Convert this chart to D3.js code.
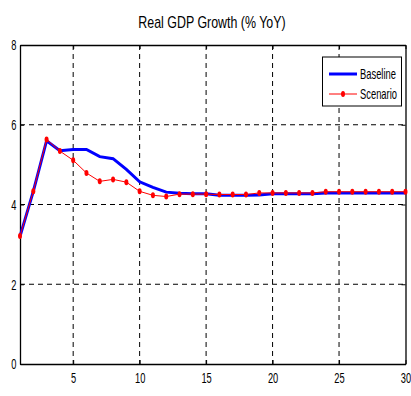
<!DOCTYPE html>
<html><head><meta charset="utf-8">
<script src="https://cdn.jsdelivr.net/npm/d3@7"></script>
<style>body{margin:0;background:#fff}svg{display:block}text{font-family:"Liberation Sans",Arial,sans-serif}</style>
</head><body><svg id="c" width="411" height="396"></svg>
<script>
const periods = d3.range(1, 31);
const baseline = [3.2,4.33,5.6,5.35,5.38,5.38,5.2,5.15,4.88,4.57,4.43,4.31,4.28,4.27,4.27,4.23,4.23,4.23,4.24,4.27,4.27,4.27,4.27,4.29,4.29,4.29,4.29,4.29,4.29,4.29];
const scenario = [3.21,4.33,5.63,5.34,5.11,4.79,4.58,4.63,4.56,4.33,4.23,4.2,4.26,4.26,4.26,4.25,4.25,4.25,4.29,4.29,4.29,4.29,4.29,4.32,4.32,4.32,4.32,4.32,4.32,4.32];
const xTicks = [5,10,15,20,25,30];
const yTicks = [0,2,4,6,8];
const title = "Real GDP Growth (% YoY)";
const seriesNames = ["Baseline","Scenario"];

const svg = d3.select("#c");
const L=20, R=405.5, T=45, B=364;
const SX = 0.62;
const x = d3.scaleLinear().domain([1,30]).range([L,R]);
const y = d3.scaleLinear().domain([0,8]).range([B,T]);

// grid
const g = svg.append("g");
g.selectAll(".vg").data(xTicks.filter(d=>d<30)).enter().append("line")
 .attr("x1",d=>x(d)).attr("x2",d=>x(d)).attr("y1",T).attr("y2",B)
 .attr("stroke","#000").attr("stroke-width",1).attr("stroke-dasharray","5,4");
g.selectAll(".hg").data(yTicks.filter(d=>d>0&&d<8)).enter().append("line")
 .attr("x1",L).attr("x2",R).attr("y1",d=>y(d)).attr("y2",d=>y(d))
 .attr("stroke","#000").attr("stroke-width",1).attr("stroke-dasharray","5,4");

// axes
const xb = svg.append("g").attr("transform",`translate(0,${B})`)
 .call(d3.axisBottom(x).tickValues(xTicks).tickSizeInner(-4).tickSizeOuter(0).tickPadding(8));
const xt = svg.append("g").attr("transform",`translate(0,${T})`)
 .call(d3.axisTop(x).tickValues(xTicks).tickSizeInner(-4).tickSizeOuter(0).tickFormat(""));
const yl = svg.append("g").attr("transform",`translate(${L},0)`)
 .call(d3.axisLeft(y).tickValues(yTicks).tickSizeInner(-4).tickSizeOuter(0));
const yr = svg.append("g").attr("transform",`translate(${R},0)`)
 .call(d3.axisRight(y).tickValues(yTicks).tickSizeInner(-4).tickSizeOuter(0).tickFormat(""));
[xb,xt,yl,yr].forEach(a=>{a.selectAll("path").attr("stroke","#000").attr("stroke-width",1.3);
 a.selectAll("line").attr("stroke","#000");
 a.selectAll("text").attr("font-size",15).attr("fill","#000").attr("font-family",'"Liberation Sans",Arial,sans-serif');});
xb.selectAll("text").attr("transform",`scale(${SX},1)`);
yl.selectAll("text").attr("x",0).attr("transform",`translate(-3.5,0) scale(${SX},1)`);

// lines
const line = d3.line().x((d,i)=>x(periods[i])).y(d=>y(d));
svg.append("path").datum(baseline).attr("d",line).attr("fill","none").attr("stroke","#0000ff").attr("stroke-width",3);
svg.append("path").datum(scenario).attr("d",line).attr("fill","none").attr("stroke","#ff0000").attr("stroke-width",1);
svg.selectAll(".m").data(scenario).enter().append("ellipse")
 .attr("cx",(d,i)=>x(periods[i])).attr("cy",d=>y(d)).attr("rx",2).attr("ry",3).attr("fill","#ff0000");

// title
svg.append("text").attr("text-anchor","middle").attr("font-size",17)
 .attr("transform","translate(212,28) scale(0.73,1)").text(title);

// legend
const lg = svg.append("g");
lg.append("rect").attr("x",322.5).attr("y",57).attr("width",79).attr("height",49).attr("fill","#fff").attr("stroke","#000").attr("stroke-width",1);
lg.append("line").attr("x1",329).attr("x2",357).attr("y1",74).attr("y2",74).attr("stroke","#0000ff").attr("stroke-width",3);
lg.append("line").attr("x1",329).attr("x2",357).attr("y1",94).attr("y2",94).attr("stroke","#ff0000").attr("stroke-width",1);
lg.append("ellipse").attr("cx",343).attr("cy",94).attr("rx",2).attr("ry",3).attr("fill","#ff0000");
lg.selectAll(".lt").data(seriesNames).enter().append("text")
 .attr("transform",(d,i)=>`translate(360,${79+i*20}) scale(0.67,1)`)
 .attr("font-size",14).text(d=>d);
</script></body></html>
